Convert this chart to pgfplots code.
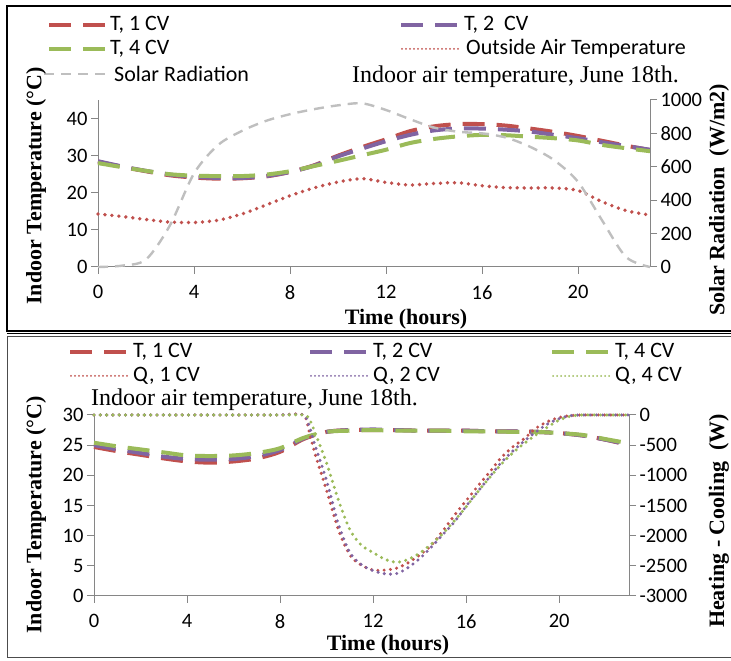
\documentclass[border=0pt]{standalone}
\usepackage{fontspec}
\setmainfont{Liberation Serif}
\newfontfamily\calib{Carlito}
\usepackage{pgfplots}
\usepackage{pgfplotstable}
\pgfplotsset{compat=1.18}

\definecolor{cT1}{RGB}{192,80,77}
\definecolor{cT2}{RGB}{128,100,162}
\definecolor{cT4}{RGB}{155,187,89}
\definecolor{cSol}{RGB}{191,191,191}
\definecolor{axgray}{RGB}{134,134,134}

% hour, T 1 CV, T 2 CV, T 4 CV, outside air (C), solar radiation (W/m2)
\pgfplotstableread{
t  T1   T2   T4   To   S
0  28.4 28.5 28.0 14.3 0
1  27.0 27.1 26.9 13.6 8
2  25.8 25.9 25.9 12.8 45
3  24.7 24.9 25.0 12.1 250
4  24.1 24.3 24.6 12.0 560
5  23.8 24.0 24.5 12.6 730
6  23.9 24.0 24.5 14.3 815
7  24.4 24.5 24.9 16.7 875
8  25.6 25.6 25.8 19.2 915
9  27.4 27.3 27.2 21.3 945
10 30.0 29.8 28.6 22.9 968
11 32.3 31.9 30.1 23.8 980
12 34.4 33.9 31.6 22.8 940
13 36.6 35.6 33.4 22.1 885
14 37.9 36.8 34.5 22.5 835
15 38.5 37.3 35.2 22.7 810
16 38.5 37.3 35.6 21.9 800
17 38.1 37.0 35.5 21.4 775
18 37.3 36.5 35.1 21.3 720
19 36.4 35.6 34.7 21.3 640
20 35.3 34.7 34.1 20.6 510
21 34.0 33.6 32.9 17.6 280
22 32.7 32.6 32.0 15.2 60
23 31.5 31.6 31.2 14.0 0
}\toptab

% hour, indoor temperature for 1, 2 and 4 control volumes
\pgfplotstableread{
t  T1   T2   T4
0  24.7 25.0 25.4
1  24.0 24.3 24.8
2  23.4 23.7 24.3
3  22.8 23.1 23.8
4  22.3 22.7 23.3
5  22.1 22.6 23.2
6  22.3 22.7 23.3
7  22.8 23.2 23.7
8  23.9 24.2 24.5
9  26.0 26.1 26.2
10 27.2 27.2 27.2
11 27.5 27.5 27.4
12 27.5 27.6 27.5
13 27.5 27.5 27.4
14 27.4 27.4 27.4
15 27.4 27.4 27.4
16 27.4 27.4 27.3
17 27.3 27.3 27.3
18 27.3 27.3 27.2
19 27.2 27.2 27.2
20 27.0 27.0 27.0
21 26.6 26.6 26.7
22 25.9 25.9 26.0
23 25.0 25.1 25.3
}\bottab

% hour, heating - cooling load (W) for 1, 2 and 4 control volumes
\pgfplotstableread{
t     Q1    Q2    Q4
0     0     0     0
1     0     0     0
2     0     0     0
3     0     0     0
4     0     0     0
5     0     0     0
6     0     0     0
7     0     0     0
8     0     0     0
9     0     0     0
9.25  -280  -180  -60
9.5   -640  -500  -290
10    -1250 -1090 -800
10.5  -1890 -1800 -1400
11    -2320 -2280 -1900
11.5  -2490 -2480 -2160
12    -2570 -2580 -2280
12.5  -2570 -2630 -2390
13    -2540 -2630 -2440
13.5  -2450 -2530 -2395
14    -2320 -2380 -2290
14.5  -2160 -2190 -2140
15    -1920 -1980 -1965
15.5  -1660 -1770 -1750
16    -1420 -1510 -1520
16.5  -1180 -1270 -1273
17    -950  -1030 -1040
17.5  -710  -790  -820
18    -530  -600  -630
18.5  -390  -430  -470
19    -220  -280  -330
19.5  -110  -150  -200
20    -40   -60   -83
20.5  -10   -10   -20
21    0     0     0
22    0     0     0
23    0     0     0
}\qtab

\tikzset{
  tdash/.style={line width=4pt, dash pattern=on 22pt off 12pt},
  odot/.style={line width=3.8pt, line cap=round, dash pattern=on 0pt off 7pt},
  qdot/.style={line width=3.4pt, line cap=round, dash pattern=on 0pt off 6.3pt},
  soldash/.style={line width=2.4pt, dash pattern=on 10pt off 7pt, color=cSol},
  legtxt/.style={anchor=west, inner sep=0pt, font=\calib\fontsize{22}{26}\selectfont},
  axlab/.style={inner sep=0pt, font=\bfseries\fontsize{22}{26}\selectfont},
}

\pgfplotsset{
  panel/.style={
    scale only axis,
    xmin=0, xmax=23,
    no markers,
    clip=false,
    axis line style={axgray, line width=1pt},
    tick style={axgray, line width=1pt},
    tick align=outside,
    major tick length=7pt,
    tick label style={font=\calib\fontsize{20.5}{24}\selectfont},
    xticklabel style={yshift=-8pt},
    /pgf/number format/assume math mode=true,
    /pgf/number format/1000 sep={},
    axis x line*=bottom,
    xtick={0,4,...,20},
  },
}

\begin{document}
\begin{tikzpicture}[x=1pt,y=1pt]
\path[use as bounding box] (0,0) rectangle (731,661);

% panel frames
\draw[black, line width=2pt] (745,654.5) -- (7,654.5) -- (7,330) -- (745,330);
\draw[black, line width=1pt] (7,327) -- (745,327);
\draw[black!70, line width=1pt] (745,324.5) -- (7,324.5) -- (7,3) -- (745,3);

% ---------- upper panel ----------
\begin{axis}[panel, at={(98pt,394pt)}, anchor=south west,
  width=552pt, height=167pt,
  ymin=0, ymax=45, ytick={0,10,20,30,40},
  axis y line*=left]
\addplot[cT1, tdash, smooth] table[x=t, y=T1] {\toptab};
\addplot[cT2, tdash, smooth] table[x=t, y=T2] {\toptab};
\addplot[cT4, tdash, smooth] table[x=t, y=T4] {\toptab};
\addplot[cT1, odot, smooth] table[x=t, y=To] {\toptab};
\end{axis}
\begin{axis}[panel, at={(98pt,394pt)}, anchor=south west,
  width=552pt, height=167pt,
  axis x line=none, axis y line*=right,
  ymin=0, ymax=1000, ytick={0,200,...,1000}]
\addplot[soldash, smooth] table[x=t, y=S] {\toptab};
\end{axis}

% upper legend
\draw[cT1, tdash] (49,636) -- (107,636);
\node[legtxt] at (110,636) {T, 1 CV};
\draw[cT2, tdash] (401,636) -- (459,636);
\node[legtxt] at (464,636) {T, 2\ \ CV};
\draw[cT4, tdash] (49,612) -- (107,612);
\node[legtxt] at (110,612) {T, 4 CV};
\draw[cT1, line width=2pt, line cap=round, dash pattern=on 0pt off 4pt] (402,612) -- (458,612);
\node[legtxt] at (466,612) {Outside Air Temperature};
\draw[soldash, line width=2pt] (44,587) -- (107,587);
\node[legtxt] at (114,587) {Solar Radiation};
\node[anchor=west, inner sep=0pt, font=\fontsize{24}{28}\selectfont] at (352,584) {Indoor air temperature, June 18th.};

\node[axlab, rotate=90] at (36,475) {Indoor Temperature (°C)};
\node[axlab, rotate=90] at (719,461) {Solar Radiation\ \ (W/m2)};
\node[axlab] at (406,342) {Time (hours)};

% ---------- lower panel ----------
\begin{axis}[panel, at={(94pt,65pt)}, anchor=south west,
  width=535pt, height=181pt,
  ymin=0, ymax=30, ytick={0,5,...,30},
  axis y line*=left]
\addplot[cT1, tdash, smooth] table[x=t, y=T1] {\bottab};
\addplot[cT2, tdash, smooth] table[x=t, y=T2] {\bottab};
\addplot[cT4, tdash, smooth] table[x=t, y=T4] {\bottab};
\end{axis}
\begin{axis}[panel, at={(94pt,65pt)}, anchor=south west,
  width=535pt, height=181pt,
  axis x line=none, axis y line*=right,
  ymin=-3000, ymax=0, ytick={-3000,-2500,...,0}]
\addplot[cT1, qdot, smooth] table[x=t, y=Q1] {\qtab};
\addplot[cT2, qdot, smooth] table[x=t, y=Q2] {\qtab};
\addplot[cT4, qdot, smooth] table[x=t, y=Q4] {\qtab};
\end{axis}

% lower legend
\draw[cT1, tdash] (70,309) -- (128,309);
\node[legtxt] at (133,309) {T, 1 CV};
\draw[cT2, tdash] (310,309) -- (368,309);
\node[legtxt] at (373,309) {T, 2 CV};
\draw[cT4, tdash] (552,309) -- (611,309);
\node[legtxt] at (615,309) {T, 4 CV};
\draw[cT1, line width=2pt, line cap=round, dash pattern=on 0pt off 4pt] (71,285) -- (127,285);
\node[legtxt] at (133,285) {Q, 1 CV};
\draw[cT2, line width=2pt, line cap=round, dash pattern=on 0pt off 4pt] (311,285) -- (367,285);
\node[legtxt] at (373,285) {Q, 2 CV};
\draw[cT4, line width=2pt, line cap=round, dash pattern=on 0pt off 4pt] (553,285) -- (610,285);
\node[legtxt] at (615,285) {Q, 4 CV};
\node[anchor=west, inner sep=0pt, font=\fontsize{24}{28}\selectfont] at (91,261) {Indoor air temperature, June 18th.};

\node[axlab, rotate=90] at (36,146) {Indoor Temperature (°C)};
\node[axlab, rotate=90] at (719,140) {Heating - Cooling\ \ (W)};
\node[axlab] at (388,16) {Time (hours)};
\end{tikzpicture}
\end{document}
